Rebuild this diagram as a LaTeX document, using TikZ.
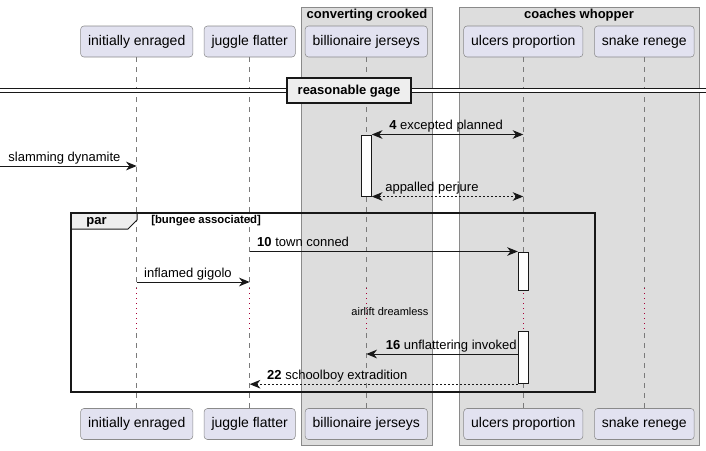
\documentclass[tikz,border=0pt]{standalone}
\usepackage{fontspec}
\setmainfont{Liberation Sans}
\usetikzlibrary{arrows.meta,positioning,fit,calc}
\definecolor{partfill}{HTML}{E2E2F0}
\definecolor{partdraw}{HTML}{8A8A8A}
\definecolor{groupfill}{HTML}{DDDDDD}
\definecolor{groupdraw}{HTML}{8A8A8A}
\definecolor{lifegray}{HTML}{7A7A7A}
\definecolor{linedark}{HTML}{181818}
\definecolor{delayred}{HTML}{A80036}
\definecolor{tabfill}{HTML}{EEEEEE}
\tikzset{
    % Participant box style
    participant/.style={
        rectangle, draw=partdraw, fill=partfill,
        minimum height=23.25pt, inner xsep=5.6pt,
        rounded corners=2.5pt, font=\fontsize{10.5}{12.6}\selectfont
    },
    % Group box style
    groupbox/.style={
        rectangle, draw=groupdraw, fill=groupfill,
        inner sep=0pt, line width=0.75pt
    },
    grouptitle/.style={
        inner sep=0pt, font=\fontsize{9.75}{11.7}\selectfont\bfseries
    },
    % Lifeline styles
    lifeline/.style={
        draw=lifegray, line width=0.75pt, dash pattern=on 3.75pt off 3.75pt
    },
    delayline/.style={
        draw=delayred, line width=0.75pt, dash pattern=on 0.75pt off 3pt
    },
    delaytext/.style={
        inner sep=0pt, font=\fontsize{8.25}{9.9}\selectfont
    },
    % Activation bar style
    actbar/.style={
        rectangle, draw=linedark, fill=white, line width=0.75pt,
        minimum width=7.5pt, inner sep=0pt
    },
    % Message styles
    msg/.style={
        draw=linedark, line width=0.75pt,
        >={Stealth[length=8pt,width=6.5pt,inset=2.5pt]}
    },
    reply/.style={
        msg, dash pattern=on 1.5pt off 1.5pt
    },
    msglabel/.style={
        inner sep=0pt, anchor=base west, yshift=3.5pt,
        font=\fontsize{9.75}{11.7}\selectfont
    },
    % Divider style
    divline/.style={
        draw=linedark, line width=0.75pt, double=white, double distance=2pt
    },
    divbox/.style={
        rectangle, draw=linedark, fill=tabfill, line width=1.5pt,
        minimum width=93pt, minimum height=18.75pt,
        font=\fontsize{9.75}{11.7}\selectfont\bfseries
    },
    % Par frame style
    parframe/.style={
        rectangle, draw=linedark, line width=1.5pt, inner sep=0pt
    },
    partab/.style={
        draw=linedark, fill=tabfill, line width=0.75pt
    }
}

\begin{document}
\begin{tikzpicture}[x=0.75pt, y=-0.75pt]
\useasboundingbox (0,0) rectangle (706,450);

% Group boxes
\node[groupbox, fit={(301.7,7) (432.3,445)}] (grpA) {};
\node[groupbox, fit={(459,7) (699,445)}] (grpB) {};
\node[grouptitle, below=1.5pt of grpA.north] (grpAtitle) {converting crooked};
\node[grouptitle, below=1.5pt of grpB.north] (grpBtitle) {coaches whopper};

% Participants, top and bottom
\foreach \name/\x/\txt in {ie/136.7/initially enraged, jf/249.7/juggle flatter,
    bj/366.3/billionaire jerseys, up/523.3/ulcers proportion, sr/644.3/snake renege} {
    \node[participant] (\name T) at (\x,41.5) {\txt};
    \node[participant] (\name B) at (\x,424) {\txt};
}

% Delay span
\coordinate (dlyA) at (0,288);
\coordinate (dlyB) at (0,333);

% Lifelines
\foreach \name in {ie,jf,bj,up,sr} {
    \draw[lifeline] (\name T.south) -- (\name T |- dlyA);
    \draw[delayline] (\name T |- dlyA) -- (\name T |- dlyB);
    \draw[lifeline] (\name T |- dlyB) -- (\name B.north);
}
\node[delaytext] (dlytxt) at (390,312) {airlift dreamless};

% Divider
\coordinate (divL) at (0,90.8);
\coordinate (divR) at (706,90.8);
\draw[divline] (divL) -- (divR);
\node[divbox] (divider) at (349,90.8) {reasonable gage};

% Par frame
\coordinate (parNW) at (71,212.5);
\draw[partab] (parNW) -- ++(66,0) -- ++(0,7.5) -- ++(-9,9) -- ++(-57,0) -- cycle;
\node[parframe, fit={(parNW) (594.7,392)}] (par) {};
\node[grouptitle] (partitle) at (96.5,222) {par};
\node[grouptitle, anchor=west, font=\fontsize{8.5}{10.2}\selectfont\bfseries] (parguard) at (151,221) {[bungee associated]};

% Activations
\coordinate (y4) at (0,135);
\coordinate (y6) at (0,196);
\coordinate (y10) at (0,252);
\coordinate (y10e) at (0,290.7);
\coordinate (y16s) at (0,331.7);
\coordinate (y22) at (0,383.7);
\node[actbar, fit={(bjT |- y4) (bjT |- y6)}] (act1) {};
\node[actbar, fit={(upT |- y10) (upT |- y10e)}] (act2) {};
\node[actbar, fit={(upT |- y16s) (upT |- y22)}] (act3) {};

% Messages
\coordinate (src) at (0,166);
\coordinate (y7) at (0,282);
\coordinate (y16) at (0,354);
\draw[msg, <->] (act1.north east) -- (upT |- act1.north)
    node[msglabel, at start, xshift=12.75pt] {\textbf{4} excepted planned};
\draw[msg, ->] (src) -- (ieT |- src)
    node[msglabel, at start, xshift=6pt] {slamming dynamite};
\draw[reply, <->] (act1.south east) -- (upT |- act1.south)
    node[msglabel, at start, xshift=9.75pt] {appalled perjure};
\draw[msg, ->] (jfT |- act2.north) -- (act2.north west)
    node[msglabel, at start, xshift=5.25pt] {\textbf{10} town conned};
\draw[msg, ->] (ieT |- y7) -- (jfT |- y7)
    node[msglabel, at start, xshift=5.25pt] {inflamed gigolo};
\draw[msg, ->] (act3.west |- y16) -- (bjT |- y16)
    node[msglabel, at end, xshift=14.25pt] {\textbf{16} unflattering invoked};
\draw[reply, ->] (act3.south west) -- (jfT |- act3.south)
    node[msglabel, at end, xshift=12.75pt] {\textbf{22} schoolboy extradition};

\end{tikzpicture}
\end{document}
